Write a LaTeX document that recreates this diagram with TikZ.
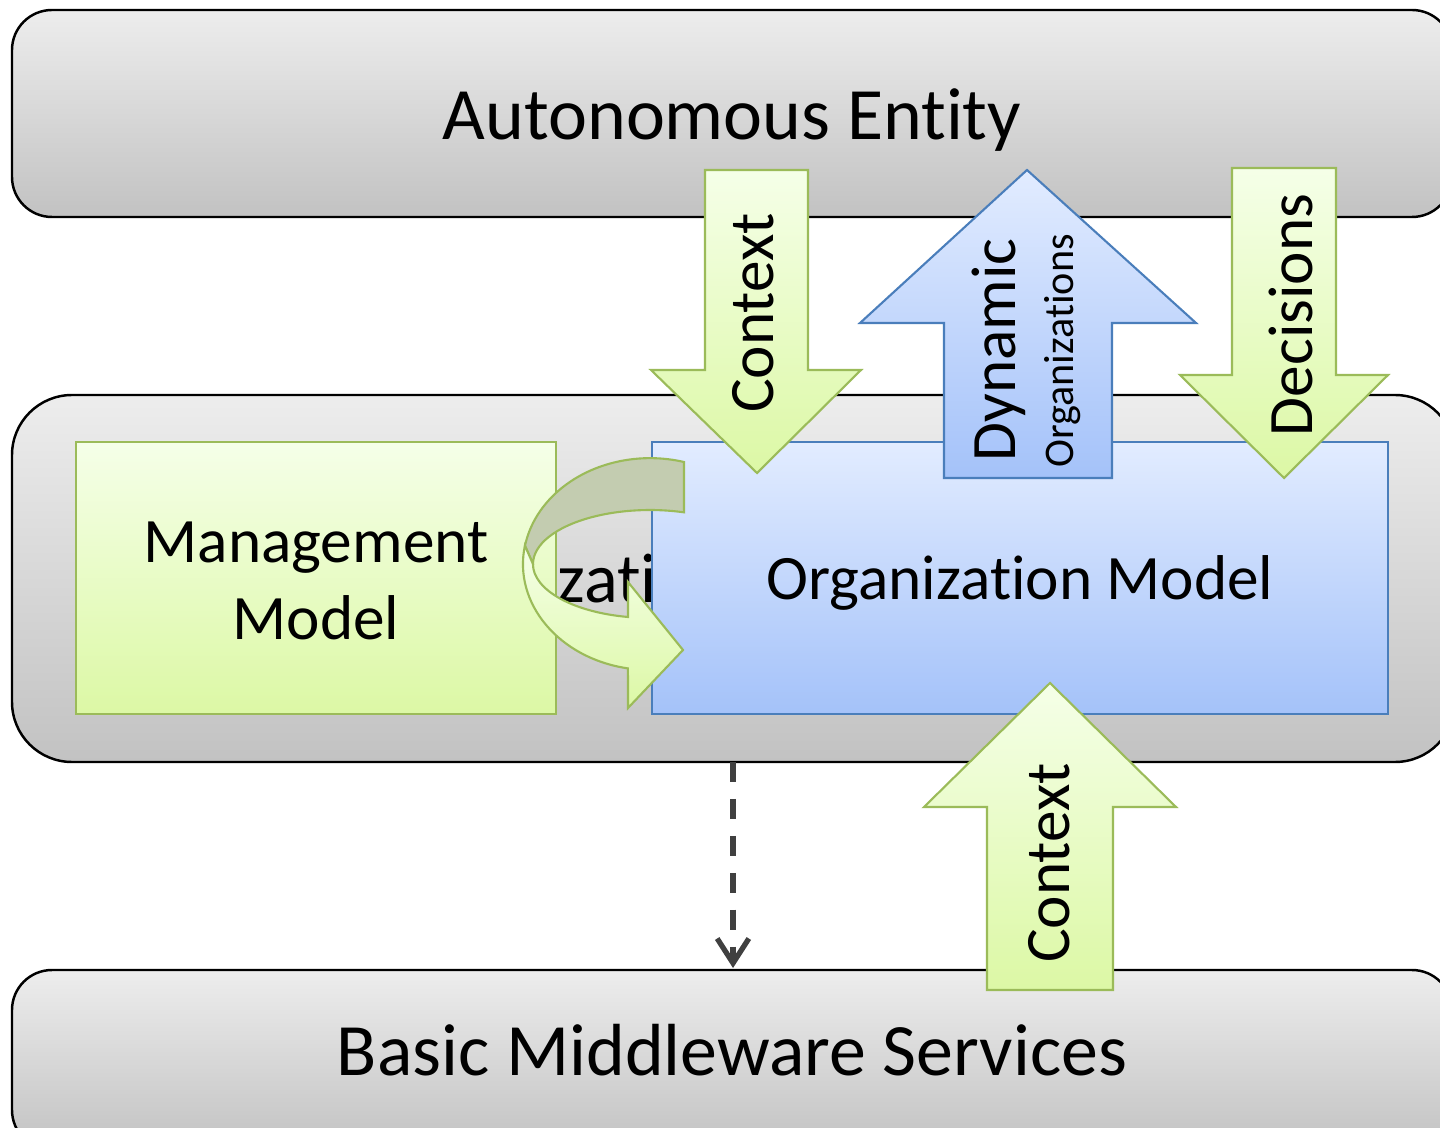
\documentclass[tikz,border=0pt]{standalone}
\usepackage{fontspec}
\setmainfont{Carlito}[Ligatures=NoCommon]
\usetikzlibrary{arrows.meta}
\definecolor{grayTop}{HTML}{EDEDED}
\definecolor{grayBot}{HTML}{C2C2C2}
\definecolor{greenTop}{HTML}{F5FFE8}
\definecolor{greenBot}{HTML}{DCF8A5}
\definecolor{blueTop}{HTML}{E2ECFF}
\definecolor{blueBot}{HTML}{A4C2F9}
\definecolor{olive}{HTML}{9BBB59}
\definecolor{steel}{HTML}{4A7EBB}
\definecolor{bandBack}{HTML}{C3CCB0}
\definecolor{dashgray}{HTML}{404040}
\newcommand{\nolig}{\kern0pt}

\begin{document}
\begin{tikzpicture}[x=0.01cm, y=-0.01cm,
    layer/.style={draw=black, line width=0.7pt, top color=grayTop, bottom color=grayBot},
    greenshape/.style={draw=olive, line width=0.6pt, top color=greenTop, bottom color=greenBot},
    blueshape/.style={draw=steel, line width=0.6pt, top color=blueTop, bottom color=blueBot},
    title/.style={font=\fontsize{21}{25}\selectfont, inner sep=0pt, anchor=base},
    boxtext/.style={font=\fontsize{18}{21.9}\selectfont, inner sep=0pt, align=center},
    vlabel/.style={font=\fontsize{18}{22}\selectfont, inner sep=0pt, rotate=90, anchor=base}]
    \useasboundingbox (0,0) rectangle (1440,1128);
    \clip (0,0) rectangle (1440,1128);

    \draw[layer, rounded corners=0.4cm] (12,10) rectangle (1452,217);
    \draw[layer, rounded corners=0.6cm] (12,395) rectangle (1455,762);
    \draw[layer, rounded corners=0.4cm] (12,970) rectangle (1452,1150);
    \node[title] (entity) at (732,140) {Autonomous Ent\nolig ity};
    \node[title] (middleware) at (732,1075) {Basic Middleware Services};
    \node[font=\fontsize{20}{24}\selectfont, inner sep=0pt, anchor=base west] (orglayer) at (557,602) {zat\nolig i};

    \node[greenshape, minimum width=4.8cm, minimum height=2.72cm, inner sep=0pt] (mgmtbox) at (316,578) {};
    \node[boxtext] (mgmt) at (316,581) {Management\\Model};
    \node[blueshape, minimum width=7.36cm, minimum height=2.72cm, inner sep=0pt, boxtext, text depth=0pt] (orgmodel) at (1020,578) {Organizat\nolig ion Model};

    \draw[olive, line width=0.6pt, fill=bandBack] (684,462) arc[start angle=285.5, end angle=190, x radius=127, y radius=106]
        -- (533,564) arc[start angle=180, end angle=286.9, x radius=117, y radius=54] -- cycle;
    \draw[greenshape] (524.9,545.6) arc[start angle=190, end angle=100, x radius=127, y radius=106]
        -- (628,708) -- (683,650) -- (628,582) -- (628,617)
        arc[start angle=100.8, end angle=180, x radius=117, y radius=54] -- cycle;

    \draw[greenshape] (705,170) -- (808,170) -- (808,370) -- (861,370) -- (757,473) -- (651,370) -- (705,370) -- cycle;
    \draw[blueshape] (1027,170) -- (1196,323) -- (1112,323) -- (1112,478) -- (944,478) -- (944,323) -- (860,323) -- cycle;
    \draw[greenshape] (1232,168) -- (1336,168) -- (1336,375) -- (1388,375) -- (1284,478) -- (1180,375) -- (1232,375) -- cycle;
    \draw[greenshape] (1050,683) -- (1176,807) -- (1113,807) -- (1113,990) -- (987,990) -- (987,807) -- (924,807) -- cycle;

    \node[vlabel] (ctxdown) at (773,313) {Context};
    \node[vlabel] (dynamic) at (1015,350) {Dynamic};
    \node[vlabel, font=\fontsize{12}{14}\selectfont] (orgs) at (1073,351) {Organizat\nolig ions};
    \node[vlabel] (decisions) at (1312,315) {Decisions};
    \node[vlabel] (ctxup) at (1069,863) {Context};

    \coordinate (dashtop) at (733,762);
    \coordinate (dashend) at (733,968);
    \draw[dashgray, line width=1.5pt, dash pattern=on 5.7pt off 4.8pt, -{Straight Barb[length=7pt,width=9pt]}] (dashtop) -- (dashend);
\end{tikzpicture}
\end{document}
